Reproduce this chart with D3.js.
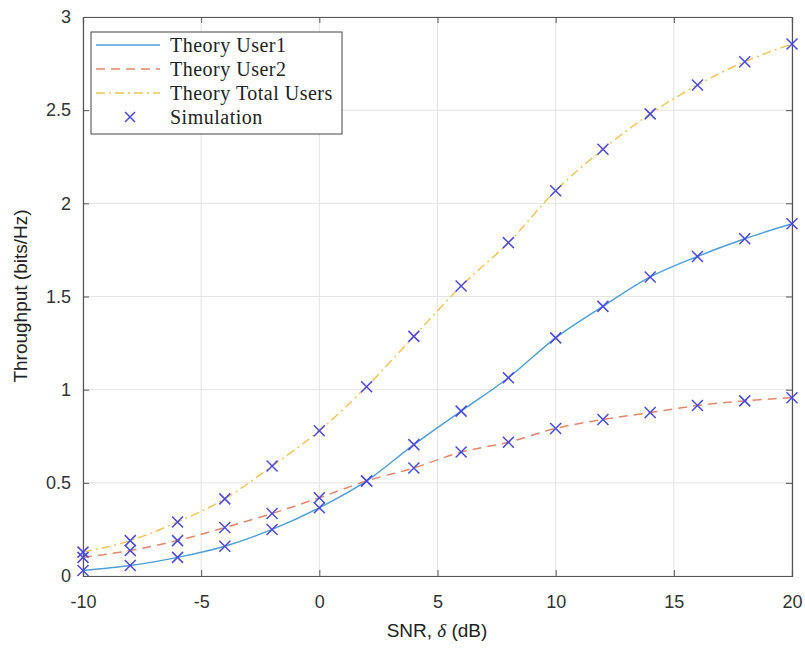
<!DOCTYPE html>
<html><head><meta charset="utf-8">
<script src="https://cdn.jsdelivr.net/npm/d3@7"></script>
<style>body{margin:0;background:#fff}</style>
</head><body>
<svg id="c" width="805" height="650"></svg>
<script>
const snr = [-10,-8,-6,-4,-2,0,2,4,6,8,10,12,14,16,18,20];
const user1 = [0.03,0.056,0.10,0.16,0.25,0.366,0.51,0.705,0.885,1.064,1.278,1.447,1.605,1.715,1.81,1.89];
const user2 = [0.10,0.137,0.19,0.26,0.335,0.42,0.51,0.58,0.665,0.718,0.792,0.84,0.877,0.915,0.94,0.957];
const total = [0.128,0.19,0.29,0.414,0.59,0.78,1.016,1.286,1.556,1.789,2.068,2.29,2.48,2.635,2.76,2.855];
const simUser1 = [0.03,0.056,0.10,0.16,0.25,0.366,0.51,0.705,0.885,1.064,1.278,1.447,1.605,1.715,1.81,1.89];
const simUser2 = [0.10,0.137,0.19,0.26,0.335,0.42,0.51,0.58,0.665,0.718,0.792,0.84,0.877,0.915,0.94,0.957];
const simTotal = [0.128,0.19,0.29,0.414,0.59,0.78,1.016,1.286,1.556,1.789,2.068,2.29,2.48,2.635,2.76,2.855];
const xTicks = [-10,-5,0,5,10,15,20];
const yTicks = [0,0.5,1,1.5,2,2.5,3];
const legendLabels = ["Theory User1","Theory User2","Theory Total Users","Simulation"];

const svg = d3.select("#c");
const L=83, R=792, T=17, B=576;
const x = d3.scaleLinear().domain([-10,20]).range([L,R]);
const y = d3.scaleLinear().domain([0,3]).range([B,T]);

// grid
const g = svg.append("g");
g.selectAll(".gx").data(xTicks).join("line").attr("x1",d=>x(d)).attr("x2",d=>x(d)).attr("y1",T).attr("y2",B).attr("stroke","#e3e3e3").attr("stroke-width",1);
g.selectAll(".gy").data(yTicks).join("line").attr("y1",d=>y(d)).attr("y2",d=>y(d)).attr("x1",L).attr("x2",R).attr("stroke","#e3e3e3").attr("stroke-width",1);

// axes
const fmt = d=>String(d);
const axB = d3.axisBottom(x).tickValues(xTicks).tickSize(-6).tickPadding(19).tickFormat(fmt);
const axT = d3.axisTop(x).tickValues(xTicks).tickSize(-6).tickFormat("");
const axL = d3.axisLeft(y).tickValues(yTicks).tickSize(-6).tickPadding(12).tickFormat(fmt);
const axR = d3.axisRight(y).tickValues(yTicks).tickSize(-6).tickFormat("");
function style(sel){
  sel.select(".domain").attr("stroke","#555").attr("stroke-width",1.2);
  sel.selectAll(".tick line").attr("stroke","#555");
  sel.selectAll("text").attr("font-family","Liberation Sans, Arial, sans-serif").attr("font-size",18).attr("fill","#333");
}
svg.append("g").attr("transform",`translate(0,${B})`).call(axB).call(style);
svg.append("g").attr("transform",`translate(0,${T})`).call(axT).call(style);
svg.append("g").attr("transform",`translate(${L},0)`).call(axL).call(style);
svg.append("g").attr("transform",`translate(${R},0)`).call(axR).call(style);

// lines
const series = [
  {v:user1, c:"#4f9fd8", dash:null},
  {v:user2, c:"#e2876a", dash:"9,6"},
  {v:total, c:"#f0c55a", dash:"9,4,2,4"}
];
const line = d3.line().x((d,i)=>x(snr[i])).y(d=>y(d)).curve(d3.curveMonotoneX);
series.forEach(s=>{
  svg.append("path").datum(s.v).attr("d",line).attr("fill","none").attr("stroke",s.c).attr("stroke-width",1.5).attr("stroke-dasharray",s.dash);
});

// markers
const mc = "#4a4ae0";
function cross(sel, cx, cy, r){
  sel.append("path").attr("d",`M${cx-r},${cy-r}L${cx+r},${cy+r}M${cx-r},${cy+r}L${cx+r},${cy-r}`).attr("stroke",mc).attr("stroke-width",1.5).attr("fill","none");
}
const mg = svg.append("g");
[simUser1, simUser2, simTotal].forEach(arr=>{
  arr.forEach((v,i)=>cross(mg, x(snr[i]), y(v), 5.5));
});

// legend
const lg = svg.append("g");
lg.append("rect").attr("x",91).attr("y",32).attr("width",251).attr("height",102).attr("fill","#fff").attr("stroke","#444").attr("stroke-width",1);
const rows=[45,69,93,117];
series.forEach((s,i)=>{
  lg.append("line").attr("x1",96).attr("x2",160).attr("y1",rows[i]).attr("y2",rows[i]).attr("stroke",s.c).attr("stroke-width",1.5).attr("stroke-dasharray",s.dash);
});
cross(lg, 130, rows[3], 5);
legendLabels.forEach((t,i)=>{
  lg.append("text").attr("x",170).attr("y",rows[i]+6.5).text(t).attr("font-family","Liberation Serif, Times New Roman, serif").attr("font-size",20).attr("letter-spacing",0.5).attr("fill","#222");
});

// axis labels
svg.append("text").attr("x",437).attr("y",637).attr("text-anchor","middle").attr("font-family","Liberation Sans, Arial, sans-serif").attr("font-size",19).attr("fill","#222")
  .html('SNR, <tspan font-style="italic" font-family="Liberation Serif, serif">δ</tspan> (dB)');
svg.append("text").attr("transform","translate(27,296) rotate(-90)").attr("text-anchor","middle").attr("font-family","Liberation Sans, Arial, sans-serif").attr("font-size",19).attr("fill","#222").text("Throughput (bits/Hz)");
</script>
</body></html>
